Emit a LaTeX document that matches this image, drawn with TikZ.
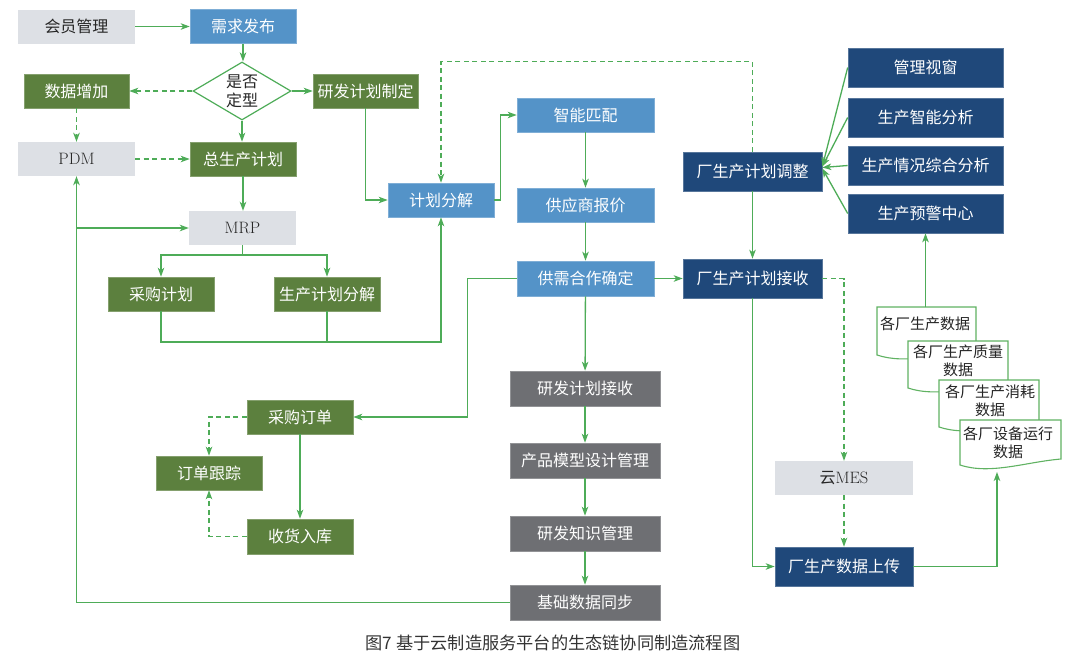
\documentclass[tikz,border=0pt]{standalone}
\usepackage{fontspec}
\newfontfamily\cjk{Noto Sans CJK SC}
\usetikzlibrary{arrows.meta,shapes.geometric}
\definecolor{cgreen}{RGB}{92,128,62}
\definecolor{cblue}{RGB}{84,147,200}
\definecolor{cnavy}{RGB}{31,72,122}
\definecolor{cdgray}{RGB}{110,111,115}
\definecolor{clgray}{RGB}{221,224,229}
\definecolor{cline}{RGB}{78,172,88}
\definecolor{cdoc}{RGB}{96,178,98}
\newcommand\mydoc[5]{%
  \filldraw[fill=white,draw=cdoc,line width=1.1pt] (#1,#3) -- (#2,#3) -- (#2,#5)
    .. controls ({#1+0.65*(#2-#1)},{#5+3}) and ({#1+0.3*(#2-#1)},{#4+10}) .. (#1,#4) -- cycle;}
\tikzset{
  basenode/.style={rectangle, inner sep=0pt, minimum height=34pt, text=white,
    font=\cjk\fontsize{16}{18}\selectfont},
  gnode/.style={basenode, fill=cgreen, draw=cgreen!75!white, line width=0.6pt},
  bnode/.style={basenode, fill=cblue, draw=cblue!75!white, line width=0.6pt},
  nnode/.style={basenode, fill=cnavy, draw=cnavy!75!white, line width=0.6pt, minimum height=39pt},
  dnode/.style={basenode, fill=cdgray, draw=cdgray!75!white, line width=0.6pt, minimum height=35pt},
  lnode/.style={basenode, fill=clgray, text=black!85},
  latnode/.style={lnode, font=\rmfamily\fontsize{16.5}{18}\selectfont},
  doctext/.style={align=center, inner sep=0pt, text=black!85, font=\cjk\fontsize{15}{18}\selectfont},
  arr/.style={draw=cline, line width=1.3pt, -{Stealth[length=9pt,width=6.5pt,inset=2.5pt]}},
  darr/.style={arr, dash pattern=on 5pt off 3.5pt},
  ln/.style={draw=cline, line width=1.3pt},
}
\begin{document}
\begin{tikzpicture}[x=1pt,y=-1pt]
\useasboundingbox (0,0) rectangle (1080,657);
% left column
\node[lnode, minimum width=117pt] (huiyuan) at (76.5,26.5) {会员管理};
\node[bnode, minimum width=106pt] (xuqiu) at (243,26.5) {需求发布};
\node[diamond, aspect=1.7, draw=cline, line width=1.2pt, fill=white, minimum width=98pt,
  minimum height=58pt, inner sep=0pt, align=center, text=black!85,
  font=\cjk\fontsize{16}{19}\selectfont] (dia) at (242,91) {是否\\定型};
\node[gnode, minimum width=105pt] (shuju) at (76.5,91) {数据增加};
\node[gnode, minimum width=105pt] (yanfa) at (365.5,91) {研发计划制定};
\node[latnode, minimum width=117pt] (pdm) at (76.5,159) {PDM};
\node[gnode, minimum width=106pt] (zong) at (243,159) {总生产计划};
\node[latnode, minimum width=107pt] (mrp) at (242.5,228) {MRP};
\node[gnode, minimum width=106pt] (caigou) at (161,294) {采购计划};
\node[gnode, minimum width=106pt] (scfj) at (327,294) {生产计划分解};
\node[bnode, minimum width=106pt] (jhfj) at (441,200) {计划分解};
% middle column
\node[bnode, minimum width=137pt] (znpp) at (585.5,115) {智能匹配};
\node[bnode, minimum width=137pt] (gysbj) at (585.5,205) {供应商报价};
\node[bnode, minimum width=137pt, minimum height=35pt] (gxhz) at (585.5,278.5) {供需合作确定};
\node[dnode, minimum width=150pt] (yfjs) at (585,388.5) {研发计划接收};
\node[dnode, minimum width=150pt] (cpmx) at (585,460.5) {产品模型设计管理};
\node[dnode, minimum width=150pt] (yfzs) at (585,533.5) {研发知识管理};
\node[dnode, minimum width=150pt] (jcsj) at (585,602.5) {基础数据同步};
% purchase
\node[gnode, minimum width=106pt] (cgdd) at (300,417) {采购订单};
\node[gnode, minimum width=106pt] (ddgz) at (209,473) {订单跟踪};
\node[gnode, minimum width=106pt, minimum height=35pt] (shrk) at (300,536.5) {收货入库};
% right
\node[nnode, minimum width=139pt] (tiaozheng) at (752.5,171.5) {厂生产计划调整};
\node[nnode, minimum width=139pt] (jieshou) at (752.5,278.5) {厂生产计划接收};
\node[nnode, minimum width=155pt] (glsc) at (925.5,67.5) {管理视窗};
\node[nnode, minimum width=155pt] (sczn) at (925.5,117.5) {生产智能分析};
\node[nnode, minimum width=155pt] (scqk) at (925.5,165.5) {生产情况综合分析};
\node[nnode, minimum width=155pt] (scyj) at (925.5,213.5) {生产预警中心};
\node[latnode, minimum width=138pt] (mes) at (844,478) {{\cjk\fontsize{16}{18}\selectfont 云}MES};
\node[nnode, minimum width=138pt] (sjsc) at (844,566.5) {厂生产数据上传};
% documents
\mydoc{877}{976}{307}{355}{350}
\node[doctext] (d1txt) at (925,324) {各厂生产数据};
\mydoc{908}{1008}{341}{388}{383}
\node[doctext] (d2txt) at (958,361) {各厂生产质量\\数据};
\mydoc{939}{1039}{380}{427}{422}
\node[doctext] (d3txt) at (990,400.5) {各厂生产消耗\\数据};
\mydoc{960}{1061}{420}{465}{459}
\node[doctext] (d4txt) at (1008,443) {各厂设备运行\\数据};
\coordinate (d1t) at (925.5,307);
\coordinate (d4b) at (997,472);
\coordinate (c1) at (242.5,255);
\coordinate (c2) at (441,342);
% connectors
\draw[arr] (huiyuan) -- (xuqiu);
\draw[arr] (xuqiu.south) -- (xuqiu.south |- dia.north);
\draw[darr] (dia.west) -- (shuju.east);
\draw[arr] (dia.east) -- (yanfa.west);
\draw[arr] (dia.south) -- (dia.south |- zong.north);
\draw[darr] (shuju) -- (pdm);
\draw[darr] (pdm) -- (zong);
\draw[arr] (zong.south) -- (zong.south |- mrp.north);
\draw[ln] (mrp.south) -- (c1);
\draw[arr] (c1) -| (caigou.north);
\draw[arr] (c1) -| (scfj.north);
\draw[arr] (caigou.south) |- (c2) -- (jhfj.south);
\draw[ln] (scfj.south) -- (scfj.south |- c2);
\draw[arr] (yanfa.south) |- (jhfj.west);
\draw[arr] (jhfj.east) -- ++(6.5,0) |- (znpp.west);
\draw[arr] (znpp) -- (gysbj);
\draw[arr] (gysbj) -- (gxhz);
\draw[arr] (gxhz) -- (jieshou);
\draw[arr] (gxhz.west) -- ++(-49,0) |- (cgdd.east);
\draw[arr] (gxhz) -- (yfjs);
\draw[arr] (yfjs) -- (cpmx);
\draw[arr] (cpmx) -- (yfzs);
\draw[arr] (yfzs) -- (jcsj);
\draw[arr] (jcsj.west) -| (pdm.south);
\draw[arr] (pdm.south |- mrp.west) -- (mrp.west);
\draw[darr] (tiaozheng.north) -- ++(0,-90) -| (jhfj.north);
\draw[arr] (tiaozheng) -- (jieshou);
\draw[arr] (glsc.west) -- ([yshift=5pt]tiaozheng.east);
\draw[arr] (sczn.west) -- ([yshift=5pt]tiaozheng.east);
\draw[arr] (scqk.west) -- ([yshift=4pt]tiaozheng.east);
\draw[arr] (scyj.west) -- ([yshift=3pt]tiaozheng.east);
\draw[darr] (jieshou.east) -| (mes.north);
\draw[darr] (mes) -- (sjsc);
\draw[arr] (jieshou.south) |- (sjsc.west);
\draw[arr] (sjsc.east) -| (d4b);
\draw[arr] (d1t) -- (scyj.south);
\draw[darr] (cgdd.west) -| (ddgz.north);
\draw[darr] (shrk.west) -| (ddgz.south);
\draw[arr] (cgdd) -- (shrk);
% caption
\node[inner sep=0pt, text=black!80, font=\cjk\fontsize{17.2}{19}\selectfont] (cap) at (553,643) {图7\ 基于云制造服务平台的生态链协同制造流程图};
\end{tikzpicture}
\end{document}
